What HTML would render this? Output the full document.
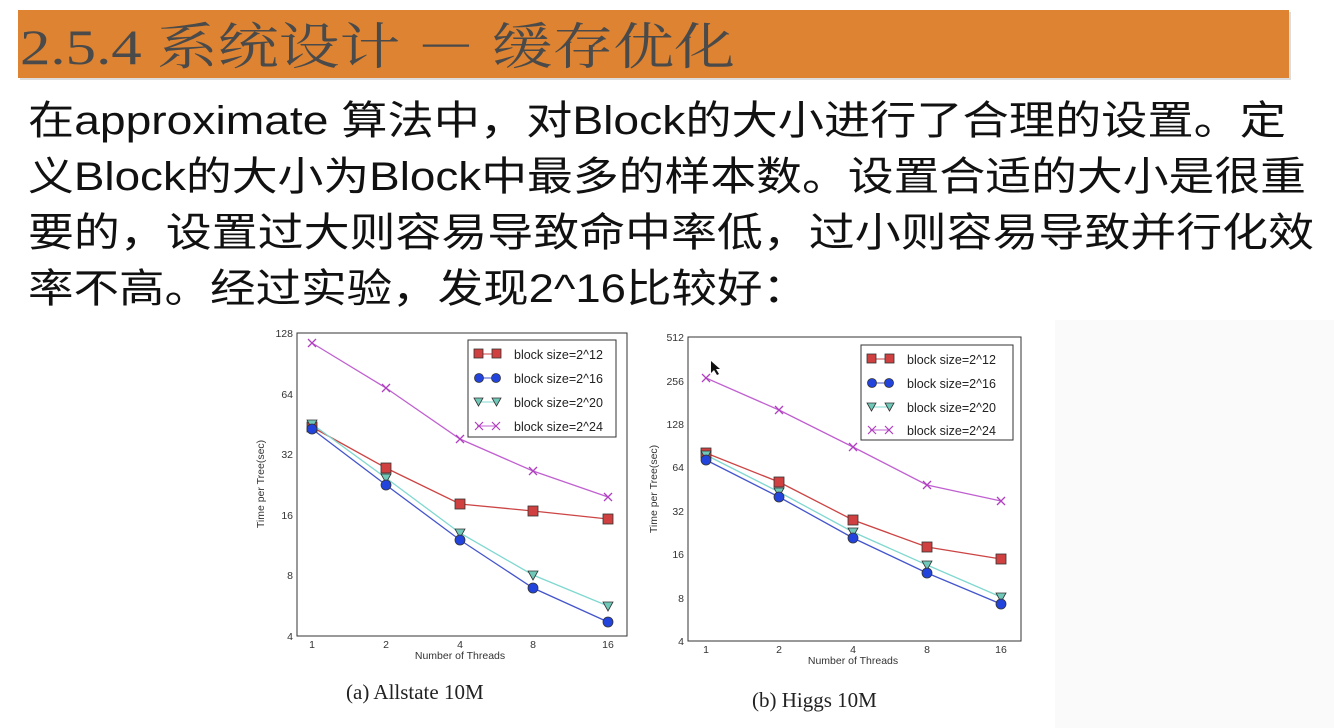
<!DOCTYPE html>
<html><head><meta charset="utf-8"><style>
html,body{margin:0;padding:0;background:#fff;width:1334px;height:728px;overflow:hidden}
svg{display:block}
.t{font-family:"Liberation Sans","Noto Sans CJK SC",sans-serif}
.ax{font-family:"Liberation Sans",sans-serif;font-size:10.5px;fill:#333}
.lg{font-family:"Liberation Sans",sans-serif;font-size:12.5px;fill:#222}
.cap{font-family:"Liberation Serif",serif;font-size:21px;fill:#222}
</style></head><body>
<svg width="1334" height="728" viewBox="0 0 1334 728">
<rect x="1055" y="320" width="279" height="408" fill="#fafafa"/>
<rect x="20" y="12" width="1271" height="68" fill="#bbb" opacity="0.5"/>
<rect x="18" y="10" width="1271" height="68" fill="#DD8331"/>
<text x="20" y="64" font-family="'Liberation Serif','Noto Serif CJK SC',serif" font-size="50" fill="#4a4a4a" textLength="715" lengthAdjust="spacingAndGlyphs">2.5.4 系统设计 － 缓存优化</text>
<g class="t" font-size="40" fill="#111">
<text x="28" y="134" textLength="1258" lengthAdjust="spacingAndGlyphs">在approximate 算法中，对Block的大小进行了合理的设置。定</text>
<text x="28" y="190" textLength="1278" lengthAdjust="spacingAndGlyphs">义Block的大小为Block中最多的样本数。设置合适的大小是很重</text>
<text x="28" y="246" textLength="1286" lengthAdjust="spacingAndGlyphs">要的，设置过大则容易导致命中率低，过小则容易导致并行化效</text>
<text x="28" y="302" textLength="780" lengthAdjust="spacingAndGlyphs">率不高。经过实验，发现2^16比较好：</text>
</g>

<!-- Chart A -->
<g>
<rect x="297" y="333" width="330" height="303" fill="#fff" stroke="#333" stroke-width="1"/>
<g class="ax" text-anchor="end">
<text x="293" y="337">128</text><text x="293" y="398">64</text><text x="293" y="458">32</text><text x="293" y="519">16</text><text x="293" y="579">8</text><text x="293" y="640">4</text>
</g>
<g class="ax" text-anchor="middle">
<text x="312" y="648">1</text><text x="386" y="648">2</text><text x="460" y="648">4</text><text x="533" y="648">8</text><text x="608" y="648">16</text>
<text x="460" y="659">Number of Threads</text>
</g>
<text class="ax" transform="translate(264,484) rotate(-90)" text-anchor="middle">Time per Tree(sec)</text>
<polyline fill="none" stroke="#c060d0" stroke-width="1.3" points="312,343 386,388 460,439 533,471 608,497"/>
<polyline fill="none" stroke="#cc4444" stroke-width="1.3" points="312,427 386,468 460,504 533,511 608,519"/>
<polyline fill="none" stroke="#80d8d0" stroke-width="1.3" points="312,424 386,478 460,533 533,575 608,606"/>
<polyline fill="none" stroke="#4455cc" stroke-width="1.3" points="312,429 386,485 460,540 533,588 608,622"/>
<g stroke="#b040c0" stroke-width="1.3"><path d="M308,339l8,8M316,339l-8,8M382,384l8,8M390,384l-8,8M456,435l8,8M464,435l-8,8M529,467l8,8M537,467l-8,8M604,493l8,8M612,493l-8,8"/></g>
<g fill="#d04040" stroke="#333" stroke-width="0.8"><rect x="307" y="422" width="10" height="10"/><rect x="381" y="463" width="10" height="10"/><rect x="455" y="499" width="10" height="10"/><rect x="528" y="506" width="10" height="10"/><rect x="603" y="514" width="10" height="10"/></g>
<g fill="#70c8b8" stroke="#333" stroke-width="0.8"><path d="M307,420h10l-5,9z M381,474h10l-5,9z M455,529h10l-5,9z M528,571h10l-5,9z M603,602h10l-5,9z"/></g>
<g fill="#2244dd" stroke="#333" stroke-width="0.8"><circle cx="312" cy="429" r="5"/><circle cx="386" cy="485" r="5"/><circle cx="460" cy="540" r="5"/><circle cx="533" cy="588" r="5"/><circle cx="608" cy="622" r="5"/></g>
<rect x="468" y="340" width="148" height="97" fill="#fff" stroke="#333"/>
<line x1="477" y1="354" x2="497" y2="354" stroke="#cc4444"/><rect x="474" y="349" width="9" height="9" fill="#d04040" stroke="#333" stroke-width="0.8"/><rect x="492" y="349" width="9" height="9" fill="#d04040" stroke="#333" stroke-width="0.8"/>
<line x1="477" y1="378" x2="497" y2="378" stroke="#4455cc"/><circle cx="479" cy="378" r="4.5" fill="#2244dd" stroke="#333" stroke-width="0.8"/><circle cx="496" cy="378" r="4.5" fill="#2244dd" stroke="#333" stroke-width="0.8"/>
<line x1="477" y1="402" x2="497" y2="402" stroke="#80d8d0"/><path d="M474,398h9l-4.5,8z M492,398h9l-4.5,8z" fill="#70c8b8" stroke="#333" stroke-width="0.8"/>
<line x1="477" y1="426" x2="497" y2="426" stroke="#c060d0"/><path d="M475,422l8,8M483,422l-8,8M492,422l8,8M500,422l-8,8" stroke="#b040c0" stroke-width="1.2"/>
<text class="lg" x="514" y="359">block size=2^12</text>
<text class="lg" x="514" y="383">block size=2^16</text>
<text class="lg" x="514" y="407">block size=2^20</text>
<text class="lg" x="514" y="431">block size=2^24</text>
<text class="cap" x="346" y="699">(a) Allstate 10M</text>
</g>

<!-- Chart B -->
<g>
<rect x="688" y="337" width="333" height="304" fill="#fff" stroke="#333" stroke-width="1"/>
<g class="ax" text-anchor="end">
<text x="684" y="341">512</text><text x="684" y="385">256</text><text x="684" y="428">128</text><text x="684" y="471">64</text><text x="684" y="515">32</text><text x="684" y="558">16</text><text x="684" y="602">8</text><text x="684" y="645">4</text>
</g>
<g class="ax" text-anchor="middle">
<text x="706" y="653">1</text><text x="779" y="653">2</text><text x="853" y="653">4</text><text x="927" y="653">8</text><text x="1001" y="653">16</text>
<text x="853" y="664">Number of Threads</text>
</g>
<text class="ax" transform="translate(657,489) rotate(-90)" text-anchor="middle">Time per Tree(sec)</text>
<polyline fill="none" stroke="#c060d0" stroke-width="1.3" points="706,378 779,410 853,447 927,485 1001,501"/>
<polyline fill="none" stroke="#cc4444" stroke-width="1.3" points="706,453 779,482 853,520 927,547 1001,559"/>
<polyline fill="none" stroke="#80d8d0" stroke-width="1.3" points="706,455 779,492 853,532 927,565 1001,597"/>
<polyline fill="none" stroke="#4455cc" stroke-width="1.3" points="706,460 779,497 853,538 927,573 1001,604"/>
<g stroke="#b040c0" stroke-width="1.3"><path d="M702,374l8,8M710,374l-8,8M775,406l8,8M783,406l-8,8M849,443l8,8M857,443l-8,8M923,481l8,8M931,481l-8,8M997,497l8,8M1005,497l-8,8"/></g>
<g fill="#d04040" stroke="#333" stroke-width="0.8"><rect x="701" y="448" width="10" height="10"/><rect x="774" y="477" width="10" height="10"/><rect x="848" y="515" width="10" height="10"/><rect x="922" y="542" width="10" height="10"/><rect x="996" y="554" width="10" height="10"/></g>
<g fill="#70c8b8" stroke="#333" stroke-width="0.8"><path d="M701,451h10l-5,9z M774,488h10l-5,9z M848,528h10l-5,9z M922,561h10l-5,9z M996,593h10l-5,9z"/></g>
<g fill="#2244dd" stroke="#333" stroke-width="0.8"><circle cx="706" cy="460" r="5"/><circle cx="779" cy="497" r="5"/><circle cx="853" cy="538" r="5"/><circle cx="927" cy="573" r="5"/><circle cx="1001" cy="604" r="5"/></g>
<rect x="861" y="345" width="152" height="95" fill="#fff" stroke="#333"/>
<line x1="870" y1="359" x2="890" y2="359" stroke="#cc4444"/><rect x="867" y="354" width="9" height="9" fill="#d04040" stroke="#333" stroke-width="0.8"/><rect x="885" y="354" width="9" height="9" fill="#d04040" stroke="#333" stroke-width="0.8"/>
<line x1="870" y1="383" x2="890" y2="383" stroke="#4455cc"/><circle cx="872" cy="383" r="4.5" fill="#2244dd" stroke="#333" stroke-width="0.8"/><circle cx="889" cy="383" r="4.5" fill="#2244dd" stroke="#333" stroke-width="0.8"/>
<line x1="870" y1="407" x2="890" y2="407" stroke="#80d8d0"/><path d="M867,403h9l-4.5,8z M885,403h9l-4.5,8z" fill="#70c8b8" stroke="#333" stroke-width="0.8"/>
<line x1="870" y1="430" x2="890" y2="430" stroke="#c060d0"/><path d="M868,426l8,8M876,426l-8,8M885,426l8,8M893,426l-8,8" stroke="#b040c0" stroke-width="1.2"/>
<text class="lg" x="907" y="364">block size=2^12</text>
<text class="lg" x="907" y="388">block size=2^16</text>
<text class="lg" x="907" y="412">block size=2^20</text>
<text class="lg" x="907" y="435">block size=2^24</text>
<path d="M711,361l0,12l3,-3l3,5l2,-1l-3,-5l4,0z" fill="#111"/>
<text class="cap" x="752" y="707">(b) Higgs 10M</text>
</g>
</svg>
</body></html>
